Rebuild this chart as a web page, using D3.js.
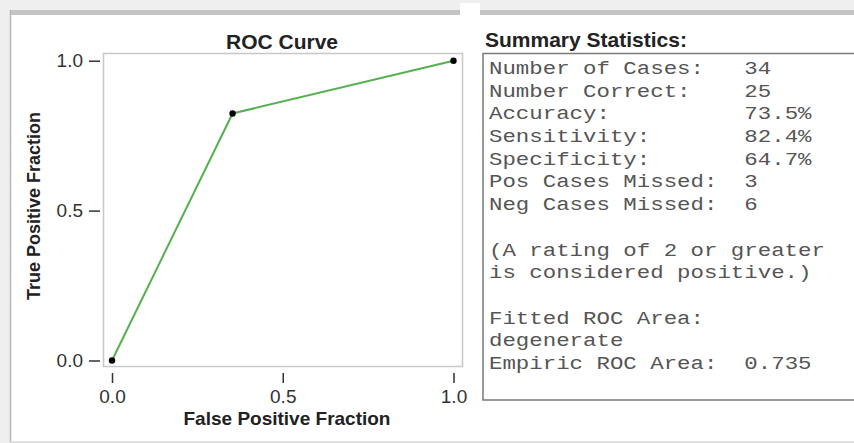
<!DOCTYPE html>
<html>
<head>
<meta charset="utf-8">
<script src="https://cdn.jsdelivr.net/npm/d3@7"></script>
<style>
  html, body { margin: 0; padding: 0; background: #efefef; }
  svg { display: block; }
</style>
</head>
<body>
<div id="chart"></div>
<script>
'use strict';

// ROC points (false positive fraction vs true positive fraction)
var fpf = [0, 0.353, 1],
    tpf = [0, 0.824, 1];

var xTicks = [0, 0.5, 1],
    yTicks = [0, 0.5, 1];

var statLabels = ["Number of Cases:", "Number Correct:", "Accuracy:", "Sensitivity:",
                  "Specificity:", "Pos Cases Missed:", "Neg Cases Missed:", "",
                  "(A rating of 2 or greater", "is considered positive.)", "",
                  "Fitted ROC Area:", "degenerate", "Empiric ROC Area:"];
var statValues = ["34", "25", "73.5%", "82.4%", "64.7%", "3", "6", "",
                  "", "", "", "", "", "0.735"];

var W = 854, H = 443,
    PLOT = { LEFT: 103, RIGHT: 462, TOP: 53, BOTTOM: 366 },
    BOX = { LEFT: 483, TOP: 53.5, BOTTOM: 400 },
    MONO = { X: 489, Y: 74, LINE: 22.7, CH: 13.44, VALCOL: 19, SIZE: 18.5 };

var svg = d3.select("#chart").append("svg")
    .attr("width", W)
    .attr("height", H);

// window chrome
svg.append("rect").attr("x", 0).attr("y", 0).attr("width", W).attr("height", H).attr("fill", "#efefef");
svg.append("rect").attr("x", 10).attr("y", 10).attr("width", W - 10).attr("height", 432).attr("fill", "#fff");
svg.append("rect").attr("x", 10).attr("y", 10).attr("width", 450).attr("height", 5).attr("fill", "#c4c4c4");
svg.append("rect").attr("x", 480).attr("y", 10).attr("width", W - 480).attr("height", 5).attr("fill", "#c4c4c4");
svg.append("rect").attr("x", 460).attr("y", 3).attr("width", 20).attr("height", 12).attr("fill", "#fff");
svg.append("line").attr("x1", 10.5).attr("x2", 10.5).attr("y1", 10).attr("y2", 442)
    .attr("stroke", "#b8b8b8").attr("stroke-width", 1.5);
svg.append("line").attr("x1", 10).attr("x2", W).attr("y1", 442).attr("y2", 442)
    .attr("stroke", "#d8d8d8").attr("stroke-width", 1.5);

var x = d3.scaleLinear().domain([0, 1]).range([112, 453.5]),
    y = d3.scaleLinear().domain([0, 1]).range([360.5, 60.7]);

// plot frame
svg.append("rect")
    .attr("x", PLOT.LEFT + 0.5).attr("y", PLOT.TOP + 0.5)
    .attr("width", PLOT.RIGHT - PLOT.LEFT).attr("height", PLOT.BOTTOM - PLOT.TOP)
    .attr("fill", "none").attr("stroke", "#c8c8c8").attr("stroke-width", 1.5);

// axes
var yAxis = svg.append("g")
    .attr("transform", "translate(100,0)")
    .call(d3.axisLeft(y).tickValues(yTicks).tickFormat(d3.format(".1f")).tickSize(11).tickPadding(6));
var xAxis = svg.append("g")
    .attr("transform", "translate(0,373)")
    .call(d3.axisBottom(x).tickValues(xTicks).tickFormat(d3.format(".1f")).tickSize(10).tickPadding(7));

[yAxis, xAxis].forEach(function (g) {
    g.select(".domain").remove();
    g.selectAll(".tick line").attr("stroke", "#333").attr("stroke-width", 1.5);
    g.selectAll(".tick text")
        .attr("fill", "#333")
        .style("font-family", "'Liberation Sans', Arial, sans-serif")
        .style("font-size", "19px");
});

// titles
svg.append("text")
    .attr("x", 282).attr("y", 49)
    .attr("text-anchor", "middle")
    .style("font-family", "'Liberation Sans', Arial, sans-serif")
    .style("font-size", "21px").style("font-weight", "bold")
    .attr("fill", "#222")
    .text("ROC Curve");

svg.append("text")
    .attr("x", 287).attr("y", 425)
    .attr("text-anchor", "middle")
    .style("font-family", "'Liberation Sans', Arial, sans-serif")
    .style("font-size", "19px").style("font-weight", "bold")
    .attr("fill", "#222")
    .text("False Positive Fraction");

svg.append("text")
    .attr("transform", "translate(40,206) rotate(-90)")
    .attr("text-anchor", "middle")
    .style("font-family", "'Liberation Sans', Arial, sans-serif")
    .style("font-size", "18px").style("font-weight", "bold")
    .attr("fill", "#222")
    .text("True Positive Fraction");

// ROC line and points
var pts = fpf.map(function (d, i) { return [d, tpf[i]]; });
var line = d3.line().x(function (d) { return x(d[0]); }).y(function (d) { return y(d[1]); });

svg.append("path")
    .attr("d", line(pts))
    .attr("fill", "none")
    .attr("stroke", "#55b04f")
    .attr("stroke-width", 2);

svg.selectAll("circle.pt").data(pts).enter().append("circle")
    .attr("class", "pt")
    .attr("cx", function (d) { return x(d[0]); })
    .attr("cy", function (d) { return y(d[1]); })
    .attr("r", 3.2)
    .attr("fill", "#000");

// summary statistics
svg.append("text")
    .attr("x", 485).attr("y", 46.5)
    .style("font-family", "'Liberation Sans', Arial, sans-serif")
    .style("font-size", "21px").style("font-weight", "bold")
    .attr("fill", "#222")
    .text("Summary Statistics:");

svg.append("path")
    .attr("d", "M" + (W + 5) + "," + BOX.TOP + "H" + BOX.LEFT + "V" + BOX.BOTTOM + "H" + (W + 5))
    .attr("fill", "#fff")
    .attr("stroke", "#7a7a7a")
    .attr("stroke-width", 1.5);

// monospace rows: smaller glyphs, stretched out to the wide Courier advance
var stretch = MONO.CH / (MONO.SIZE * 0.6);
var rows = svg.append("g")
    .attr("transform", "translate(" + MONO.X + ",0) scale(" + stretch + ",1)")
    .style("font-family", "'Courier New', 'Liberation Mono', monospace")
    .style("font-size", MONO.SIZE + "px")
    .attr("fill", "#555");

rows.selectAll("text.lab").data(statLabels).enter().append("text")
    .attr("class", "lab")
    .attr("x", 0)
    .attr("y", function (d, i) { return MONO.Y + i * MONO.LINE; })
    .text(function (d) { return d; });

rows.selectAll("text.val").data(statValues).enter().append("text")
    .attr("class", "val")
    .attr("x", MONO.VALCOL * MONO.SIZE * 0.6)
    .attr("y", function (d, i) { return MONO.Y + i * MONO.LINE; })
    .text(function (d) { return d; });
</script>
</body>
</html>
